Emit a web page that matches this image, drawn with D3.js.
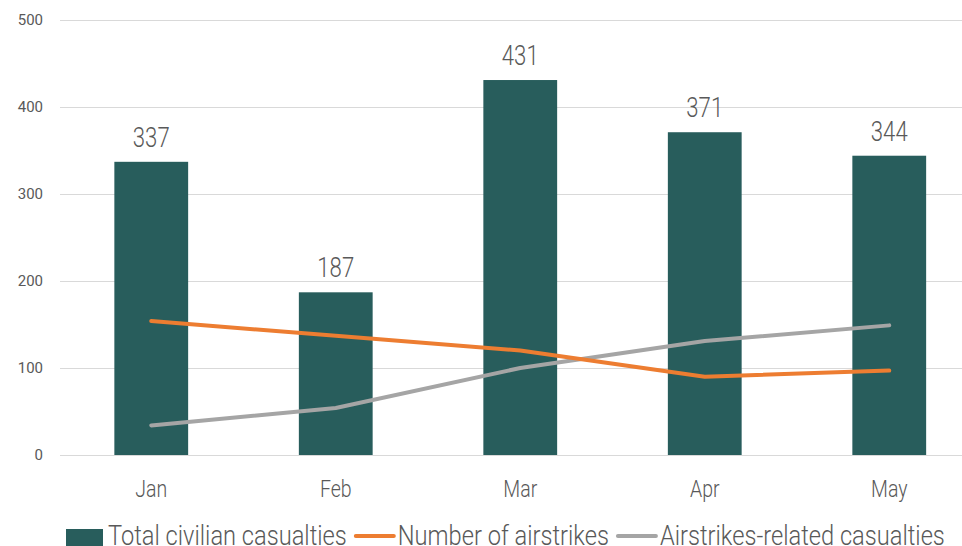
<!DOCTYPE html>
<html>
<head>
<meta charset="utf-8">
<script src="https://cdn.jsdelivr.net/npm/d3@7"></script>
<style>
  body { margin: 0; background: #fff; }
  text { font-family: Roboto, "Noto Sans", sans-serif; }
</style>
</head>
<body>
<svg id="viz" width="962" height="546"></svg>
<script>
// values
const months = ["Jan", "Feb", "Mar", "Apr", "May"];
const totalCasualties = [337, 187, 431, 371, 344];
const airstrikes = [154, 137, 120, 90, 97];
const airstrikeCasualties = [34, 54, 100, 131, 149];
const yTicks = [0, 100, 200, 300, 400, 500];

const seriesNames = ["Total civilian casualties", "Number of airstrikes", "Airstrikes-related casualties"];
const colors = {bar: "#285d5c", orange: "#ed7d31", gray: "#a5a5a5", text: "#595959"};

const svg = d3.select("#viz");
// fake a condensed face, no Roboto Condensed here
const condense = 0.83;

const x = d3.scaleBand()
    .domain(months)
    .range([59, 981.5])
    .paddingInner(0.6)
    .paddingOuter(0.3);

const y = d3.scaleLinear()
    .domain([0, 500])
    .range([455, 20]);

// gridlines + y labels
const yAxis = d3.axisLeft(y)
    .tickValues(yTicks)
    .tickSize(-(962 - 60))
    .tickPadding(17);

svg.append("g")
    .attr("transform", "translate(60,0)")
    .call(yAxis)
    .call(g => g.select(".domain").remove())
    .call(g => g.selectAll(".tick line").attr("stroke", "#d9d9d9").attr("stroke-width", 1))
    .call(g => g.selectAll(".tick text")
        .attr("fill", colors.text)
        .style("font-family", "Roboto, sans-serif")
        .style("font-size", "15px"));

// bars
svg.selectAll(".bar")
    .data(totalCasualties)
    .enter()
    .append("rect")
    .attr("class", "bar")
    .attr("x", (d, i) => x(months[i]))
    .attr("y", d => y(d))
    .attr("width", x.bandwidth())
    .attr("height", d => y(0) - y(d))
    .style("fill", colors.bar);

// bar labels
svg.selectAll(".label")
    .data(totalCasualties)
    .enter()
    .append("text")
    .attr("class", "label")
    .attr("transform", (d, i) => `translate(${x(months[i]) + x.bandwidth() / 2},${y(d) - 15}) scale(0.82,1)`)
    .attr("text-anchor", "middle")
    .style("font-size", "27px")
    .style("font-weight", 300)
    .style("fill", colors.text)
    .text(d => d);

// lines
const cx = i => x(months[i]) + x.bandwidth() / 2;
const line = d3.line()
    .x((d, i) => cx(i))
    .y(d => y(d));

svg.append("path")
    .datum(airstrikeCasualties)
    .attr("d", line)
    .attr("fill", "none")
    .attr("stroke", colors.gray)
    .attr("stroke-width", 4)
    .attr("stroke-linejoin", "round")
    .attr("stroke-linecap", "round");

svg.append("path")
    .datum(airstrikes)
    .attr("d", line)
    .attr("fill", "none")
    .attr("stroke", colors.orange)
    .attr("stroke-width", 4)
    .attr("stroke-linejoin", "round")
    .attr("stroke-linecap", "round");

// month labels
svg.selectAll(".month")
    .data(months)
    .enter()
    .append("text")
    .attr("class", "month")
    .attr("transform", d => `translate(${x(d) + x.bandwidth() / 2},497) scale(${condense},1)`)
    .attr("text-anchor", "middle")
    .style("font-size", "23.5px")
    .style("font-weight", 300)
    .style("fill", colors.text)
    .text(d => d);

// legend, right at the bottom edge like the original
const legend = svg.append("g").attr("class", "legend");
let lx = 66;
const legendColors = [colors.bar, colors.orange, colors.gray];
seriesNames.forEach((name, i) => {
    const g = legend.append("g");
    if (i === 0) {
        g.append("rect")
            .attr("x", lx).attr("y", 529)
            .attr("width", 37).attr("height", 18)
            .style("fill", legendColors[i]);
    } else {
        g.append("line")
            .attr("x1", lx + 1).attr("x2", lx + 39)
            .attr("y1", 536).attr("y2", 536)
            .attr("stroke", legendColors[i])
            .attr("stroke-width", 4)
            .attr("stroke-linecap", "round");
    }
    const tx = i === 0 ? lx + 42 : lx + 43;
    const t = g.append("text")
        .attr("transform", `translate(${tx},545) scale(0.845,1)`)
        .style("font-size", "28px")
        .style("font-weight", 300)
        .style("fill", colors.text)
        .text(name);
    lx = tx + t.node().getComputedTextLength() * 0.845 + 8;
});
</script>
</body>
</html>
